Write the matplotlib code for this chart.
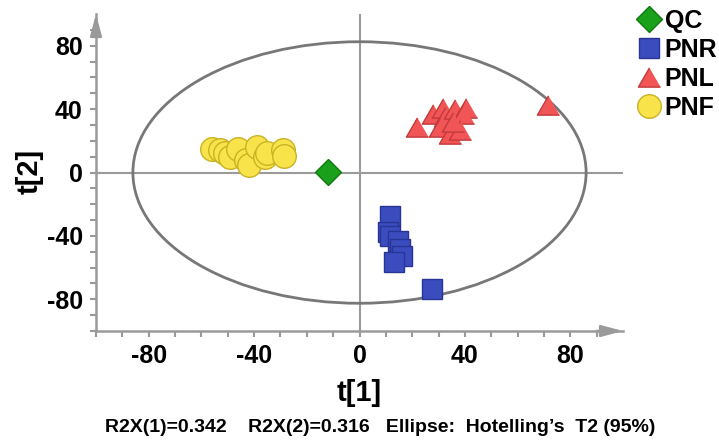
import numpy as np
import matplotlib
matplotlib.use("Agg")
import matplotlib.pyplot as plt
from matplotlib.patches import Ellipse
from matplotlib.lines import Line2D

plt.rcParams['font.family'] = ['Liberation Sans', 'DejaVu Sans']
plt.rcParams['font.weight'] = 'bold'
plt.rcParams['axes.unicode_minus'] = False

# --- data (scores) ---
qc_t1 = [-12]
qc_t2 = [0.5]

pnr_t1 = [11.7, 11.0, 11.7, 14.8, 15.5, 16.0, 13.0, 27.4]
pnr_t2 = [-27.2, -37.7, -39.8, -43.0, -48.2, -52.4, -56.7, -73.5]

pnl_t1 = [21.8, 28.0, 31.8, 32.5, 36.2, 40.6, 39.4, 30.6, 34.3, 38.0, 35.6, 71.4]
pnl_t2 = [28.6, 37.0, 41.0, 35.0, 40.0, 41.0, 37.0, 28.6, 24.4, 26.5, 31.8, 42.3]

pnf_t1 = [-56, -53, -51, -49, -46, -43, -42, -39, -36, -35, -29, -28.5]
pnf_t2 = [15, 14, 12.5, 10, 15, 8, 5, 16, 10, 12, 14, 10.5]

ellipse_a = 86.0   # half width of the Hotelling T2 ellipse
ellipse_b = 82.5   # half height

major_ticks = [-80, -40, 0, 40, 80]
minor_ticks = list(range(-100, 100, 10))

footnote = "R2X(1)=0.342    R2X(2)=0.316   Ellipse:  Hotelling\u2019s  T2 (95%)"

# --- style ---
axis_gray = '#9a9a9a'
tri = [(0, 0.866), (-1, -0.866), (1, -0.866)]

fig = plt.figure(figsize=(7.19, 4.43), dpi=100)
ax = fig.add_axes((96 / 719, 1 - 331 / 443, 527 / 719, 317 / 443))

ax.set_xlim(-100, 100)
ax.set_ylim(-100, 100)

for s in ['top', 'right']:
    ax.spines[s].set_visible(False)
for s in ['left', 'bottom']:
    ax.spines[s].set_color(axis_gray)
    ax.spines[s].set_linewidth(1.8)

# zero lines
ax.axhline(0, color=axis_gray, lw=1.5, zorder=1)
ax.axvline(0, color=axis_gray, lw=1.5, zorder=1)

# arrow heads on the axes
arrow = dict(arrowstyle='-|>,head_length=1.3,head_width=0.35', color=axis_gray,
             mutation_scale=10, lw=1.8, shrinkA=0, shrinkB=0)
ax.annotate('', xy=(-100, 100), xytext=(-100, 90), arrowprops=arrow, annotation_clip=False)
ax.annotate('', xy=(100, -100), xytext=(90, -100), arrowprops=arrow, annotation_clip=False)

ax.add_patch(Ellipse((0, 0), 2 * ellipse_a, 2 * ellipse_b, fill=False,
                     edgecolor='#777777', lw=2, zorder=2))

ax.plot(pnf_t1, pnf_t2, 'o', ms=17, mfc='#f8e44a', mec='#c9b225', mew=1, ls='none', zorder=3)
ax.plot(pnr_t1, pnr_t2, 's', ms=15, mfc='#3b4cbf', mec='#283594', mew=1, ls='none', zorder=3)
ax.plot(pnl_t1, pnl_t2, marker=tri, ms=16, mfc='#f25555', mec='#c23a3a', mew=1, ls='none', zorder=3)
ax.plot(qc_t1, qc_t2, 'D', ms=13, mfc='#1aa01a', mec='#0f7a0f', mew=1, ls='none', zorder=3)

ax.set_xticks(major_ticks)
ax.set_yticks(major_ticks)
ax.set_xticks(minor_ticks, minor=True)
ax.set_yticks(minor_ticks, minor=True)
ax.tick_params(which='both', direction='out', length=4.5, width=1.5, color=axis_gray,
               labelsize=18, pad=5)
ax.tick_params(which='minor', length=4)

ax.set_xlabel('t[1]', fontsize=21, fontweight='bold', va='center')
ax.xaxis.set_label_coords(0.5, -0.196)
ax.set_ylabel('t[2]', fontsize=21, fontweight='bold', va='center')
ax.yaxis.set_label_coords(-0.125, 0.502)

# legend
handles = [
    Line2D([], [], marker='D', ms=13, mfc='#1aa01a', mec='#0f7a0f', ls='none', label='QC'),
    Line2D([], [], marker='s', ms=15, mfc='#3b4cbf', mec='#283594', ls='none', label='PNR'),
    Line2D([], [], marker=tri, ms=16, mfc='#f25555', mec='#c23a3a', ls='none', label='PNL'),
    Line2D([], [], marker='o', ms=17, mfc='#f8e44a', mec='#c9b225', ls='none', label='PNF'),
]
fig.legend(handles=handles, loc='upper left', bbox_to_anchor=(636 / 719, 1 - 9 / 443),
           frameon=False, handlelength=1.0, handletextpad=0.15,
           labelspacing=0.2, borderaxespad=0, borderpad=0,
           prop={'weight': 'bold', 'size': 18})

fig.text(380 / 719, 1 - 427 / 443, footnote, ha='center', va='center', fontsize=14,
         fontweight='bold')

fig.savefig('out.png', dpi=100)
